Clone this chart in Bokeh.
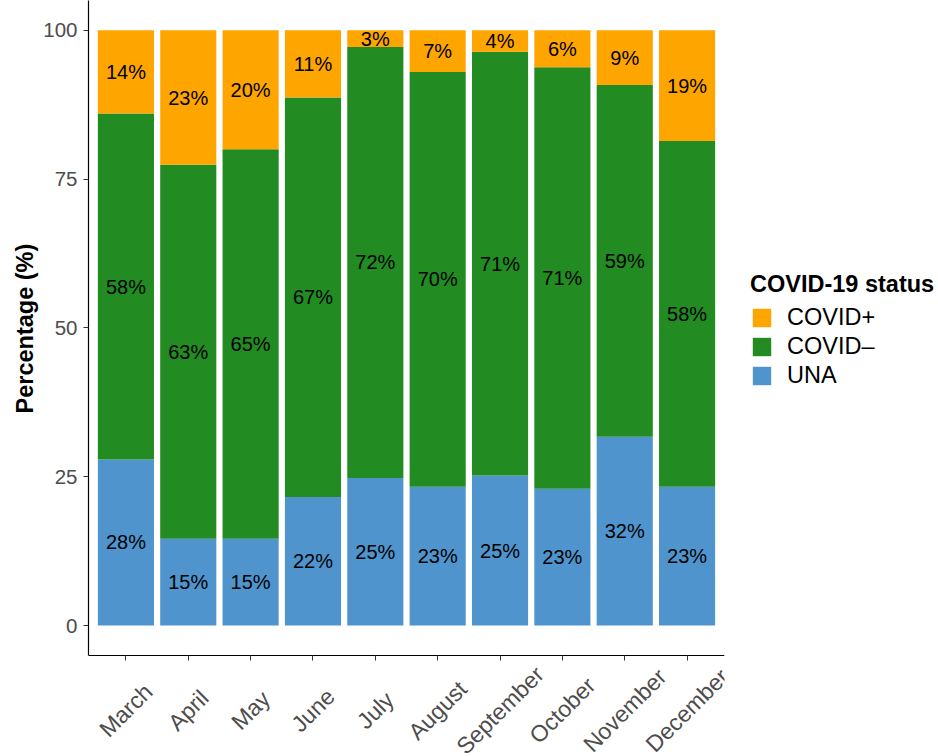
import math
from bokeh.plotting import figure
from bokeh.models import (ColumnDataSource, FactorRange, FixedTicker, Legend, LegendItem,
                          Range1d, LabelSet, Title)
from bokeh.core.properties import value
from bokeh.embed import file_html
from bokeh.resources import INLINE

months = ["March", "April", "May", "June", "July", "August",
          "September", "October", "November", "December"]
una = [27.9, 14.6, 14.6, 21.6, 24.8, 23.3, 25.2, 23.0, 31.7, 23.3]
covid_neg = [58.1, 62.8, 65.4, 67.1, 72.4, 69.7, 71.2, 70.8, 59.1, 58.1]
covid_pos = [14.0, 22.6, 20.0, 11.3, 2.8, 7.0, 3.6, 6.2, 9.2, 18.6]
y_ticks = [0, 25, 50, 75, 100]
status_names = ["COVID+", "COVID\u2013", "UNA"]
colors = ["#FFA500", "#228B22", "#4F94CD"]

FONT = "Liberation Sans"
AX_START, AX_END = -5.0, 105.0      # visible value axis extent
FRAME_BOTTOM = -22.0                # extra room below the axis for the month labels

p = figure(frame_width=636, frame_height=756, output_backend="svg", toolbar_location=None,
           x_range=FactorRange(*months, range_padding=0.02, range_padding_units="percent"),
           y_range=Range1d(FRAME_BOTTOM, AX_END),
           min_border_left=88, min_border_right=0, min_border_top=0, min_border_bottom=0)

# stacking order from bottom: UNA, COVID-, COVID+
series = [una, covid_neg, covid_pos]
names_bottom_up = [status_names[2], status_names[1], status_names[0]]
cols_bottom_up = [colors[2], colors[1], colors[0]]

renderers = {}
bottoms = [0.0] * len(months)
lx, ly, lt = [], [], []
for vals, name, col in zip(series, names_bottom_up, cols_bottom_up):
    tops = [b + v for b, v in zip(bottoms, vals)]
    src = ColumnDataSource(dict(x=months, bottom=bottoms, top=tops))
    r = p.vbar(x="x", bottom="bottom", top="top", width=0.9, source=src,
               fill_color=col, line_color=None)
    renderers[name] = r
    for m, b, v in zip(months, bottoms, vals):
        lx.append(m)
        ly.append(b + v / 2)
        lt.append(f"{round(v)}%")
    bottoms = tops

lab_src = ColumnDataSource(dict(x=lx, y=ly, t=lt))
p.text(x="x", y="y", text="t", source=lab_src, text_align="center",
       text_baseline="middle", text_font=value(FONT), text_font_size="20px",
       text_color="black")

# legend in the right-hand panel
legend = Legend(items=[LegendItem(label=n, renderers=[renderers[n]]) for n in status_names],
                location=(26, 367), title="COVID-19 status")
legend.title_text_font = FONT
legend.title_text_font_style = "bold"
legend.title_text_font_size = "23.5px"
legend.title_text_color = "black"
legend.title_standoff = 6
legend.label_text_font = FONT
legend.label_text_font_size = "23.5px"
legend.label_text_color = "black"
legend.glyph_width = 23
legend.glyph_height = 23
legend.spacing = 2
legend.label_standoff = 14
legend.margin = 0
legend.padding = 13
legend.border_line_color = None
legend.background_fill_alpha = 0
p.add_layout(legend, "right")

p.xgrid.grid_line_color = None
p.ygrid.grid_line_color = None
p.outline_line_color = None

p.yaxis.ticker = FixedTicker(ticks=y_ticks)
p.yaxis.bounds = (AX_START, AX_END)
p.yaxis.minor_tick_line_color = None
p.yaxis.major_label_standoff = 6
p.yaxis.major_label_text_font = FONT
p.yaxis.major_label_text_font_size = "20.5px"
p.yaxis.major_label_text_color = "#4D4D4D"

# y axis title, placed along the visible value axis
p.add_layout(Title(text="Percentage (%)", align="left", offset=343, standoff=6,
                   text_font=FONT, text_font_style="bold", text_font_size="23.5px",
                   text_color="black"), "left")

p.xaxis.fixed_location = AX_START
p.xaxis.major_label_text_color = None

for ax in (p.xaxis[0], p.yaxis[0]):
    ax.axis_line_color = "black"
    ax.axis_line_width = 1.2
    ax.major_tick_line_color = "#333333"
    ax.major_tick_in = 0
    ax.major_tick_out = 5

# x tick labels: centred under each tick and rotated 45 degrees
xlab_src = ColumnDataSource(dict(x=months, y=[AX_START] * len(months), t=months))
p.add_layout(LabelSet(x="x", y="y", text="t", source=xlab_src, y_offset=-55,
                      angle=45, angle_units="deg", text_align="center",
                      text_baseline="middle", text_font=value(FONT),
                      text_font_size="23px", text_color="#4D4D4D"))

open("out.html", "w").write(file_html(p, INLINE))
